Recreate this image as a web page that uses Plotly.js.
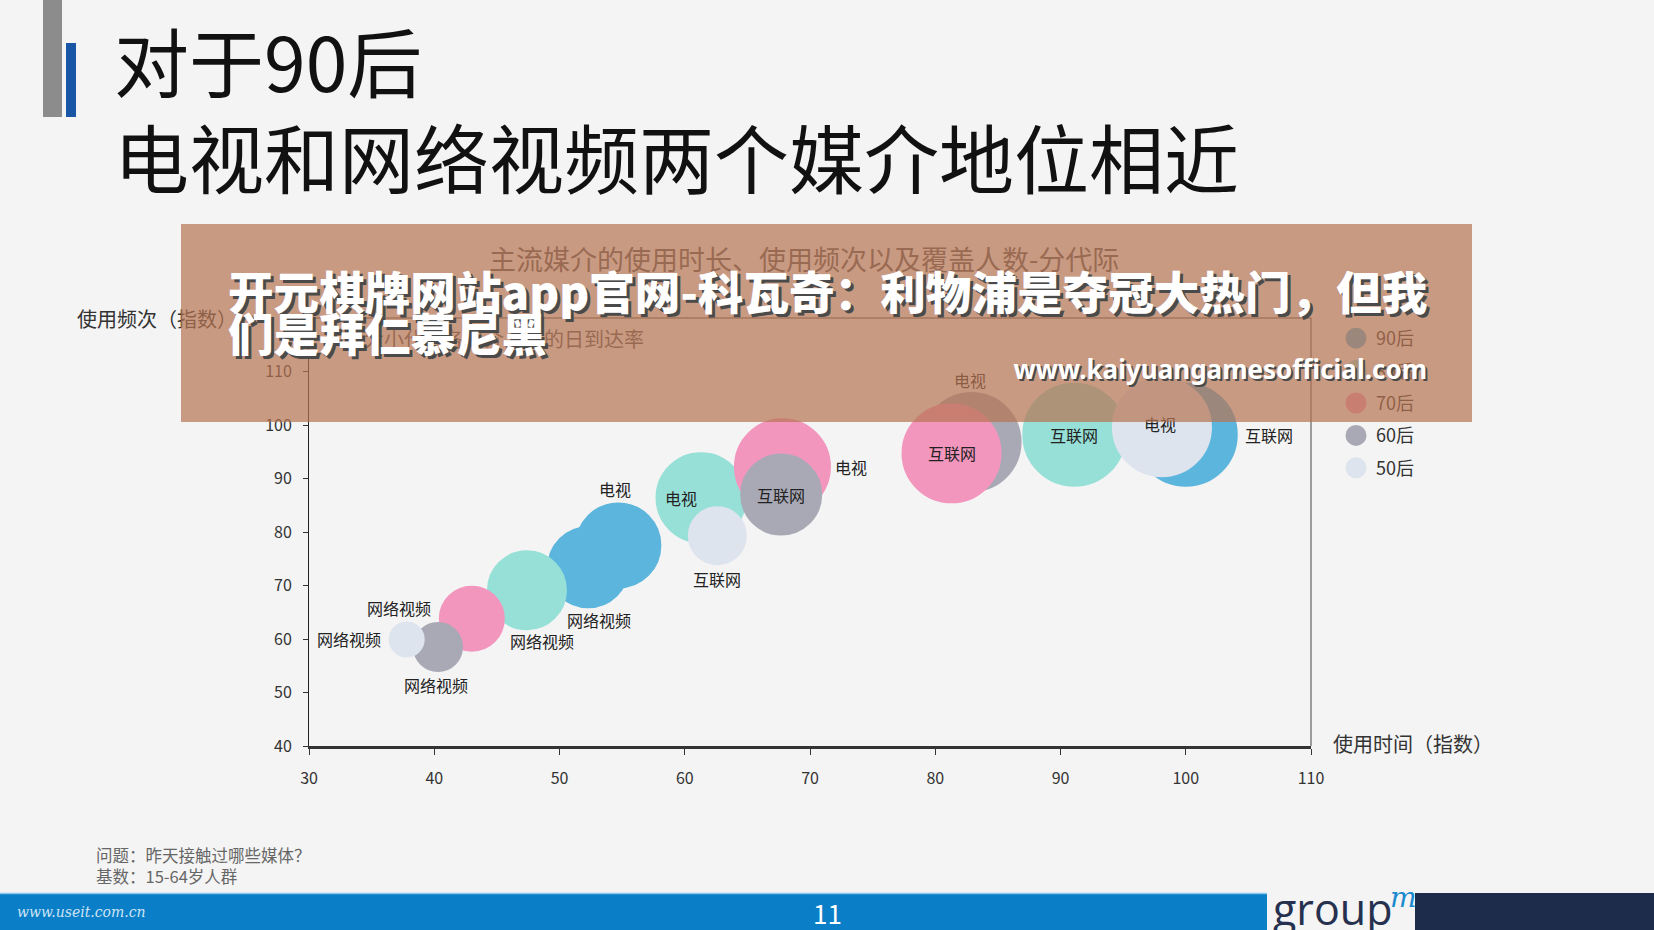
<!DOCTYPE html>
<html>
<head>
<meta charset="utf-8">
<script src="https://cdn.plot.ly/plotly-3.0.1.min.js"></script>
<style>
html,body{margin:0;padding:0;background:#f4f4f4;}
#wrap{position:relative;width:1654px;height:930px;overflow:hidden;background:#f4f4f4;}
#chart{position:absolute;left:0;top:0;width:1654px;height:930px;}
#overlay{position:absolute;left:181px;top:224px;width:1291px;height:198px;background:rgba(182,115,81,0.7);pointer-events:none;}
#wm{position:absolute;left:228px;top:269px;color:#fff;font-family:"Noto Sans CJK SC";font-weight:900;font-size:45.6px;line-height:42px;text-shadow:3px 3px 0 #4a4a4a;white-space:nowrap;pointer-events:none;}
#url{position:absolute;right:227px;top:352px;color:#fff;font-family:"Noto Sans","DejaVu Sans";font-weight:700;font-size:26px;line-height:34px;text-shadow:2px 2px 0 #4a4a4a;white-space:nowrap;pointer-events:none;}
</style>
</head>
<body>
<div id="wrap">
  <div id="chart"></div>
  <div id="overlay"></div>
  <div id="wm">开元棋牌网站app官网-科瓦奇：利物浦是夺冠大热门，但我<br>们是拜仁慕尼黑</div>
  <div id="url">www.kaiyuangamesofficial.com</div>
</div>
<script>
// ---------------- data ----------------
const generations = ['90后', '80后', '70后', '60后', '50后'];

const media_90 = ['网络视频', '电视', '互联网'];
const time_90  = [52.3, 54.7, 100.0];
const freq_90  = [73.4, 77.5, 98.2];
const reach_90 = [82, 86, 104];

const media_80 = ['网络视频', '电视', '互联网'];
const time_80  = [47.4, 61.3, 91.1];
const freq_80  = [69.1, 86.4, 98.2];
const reach_80 = [80, 91, 104];

const media_70 = ['网络视频', '电视', '互联网'];
const time_70  = [43.0, 67.8, 81.3];
const freq_70  = [63.8, 92.2, 94.7];
const reach_70 = [66, 97, 100];

const media_60 = ['网络视频', '互联网', '电视'];
const time_60  = [40.3, 67.7, 82.9];
const freq_60  = [58.5, 87.0, 96.8];
const reach_60 = [50, 82, 100];

const media_50 = ['网络视频', '互联网', '电视'];
const time_50  = [37.8, 62.6, 98.1];
const freq_50  = [59.9, 79.3, 99.6];
const reach_50 = [36, 59, 100];

const xTickVals = [30, 40, 50, 60, 70, 80, 90, 100, 110];
const yTickVals = [40, 50, 60, 70, 80, 90, 100, 110];

// ---------------- styles ----------------
const series = {
  '90后': {media: media_90, time: time_90, freq: freq_90, reach: reach_90},
  '80后': {media: media_80, time: time_80, freq: freq_80, reach: reach_80},
  '70后': {media: media_70, time: time_70, freq: freq_70, reach: reach_70},
  '60后': {media: media_60, time: time_60, freq: freq_60, reach: reach_60},
  '50后': {media: media_50, time: time_50, freq: freq_50, reach: reach_50}
};
const colors = {'90后': '#5cb5dd', '80后': '#97e0d7', '70后': '#f396be', '60后': '#a9a9b6', '50后': '#dde4ee'};
// points drawn behind the following generation (as in the original)
const backLayer = {'60后': ['电视']};
// label offsets in screen px [dx, dy(down)]
const labelOffset = {
  '50后|网络视频': [-58, -1],
  '60后|网络视频': [-2, 38],
  '70后|网络视频': [-73, -11],
  '80后|网络视频': [15, 51],
  '90后|网络视频': [11, 53],
  '90后|电视': [-3, -56],
  '80后|电视': [-20, 0],
  '50后|互联网': [0, 43],
  '70后|电视': [69, 0],
  '60后|互联网': [0, 0],
  '70后|互联网': [0, 0],
  '60后|电视': [-2, -62],
  '80后|互联网': [0, 0],
  '50后|电视': [-2, -3],
  '90后|互联网': [83, 0]
};
const LW = 5;
const FONT = '"Noto Sans CJK SC", "Noto Sans", sans-serif';

// canvas pixel -> paper coords
const L = 309, T = 318, PW = 1002, PH = 428;
const px = X => (X - L) / PW;
const py = Y => (T + PH - Y) / PH;

function makeTrace(g, idxs, showlegend) {
  const s = series[g];
  return {
    type: 'scatter', mode: 'markers', name: g, showlegend: showlegend, legendgroup: g,
    x: idxs.map(i => s.time[i]),
    y: idxs.map(i => s.freq[i]),
    text: idxs.map(i => s.media[i]),
    hovertemplate: '%{text}<br>使用时间 %{x}<br>使用频次 %{y}<extra>' + g + '</extra>',
    marker: {
      size: idxs.map(i => s.reach[i] - LW), sizemode: 'diameter', sizeref: 1,
      color: colors[g], opacity: 1, line: {width: LW, color: colors[g]}
    },
    cliponaxis: false
  };
}

const traces = [];
generations.forEach(g => {
  const s = series[g];
  const back = backLayer[g] || [];
  const backIdx = s.media.map((m, i) => i).filter(i => back.includes(s.media[i]));
  const frontIdx = s.media.map((m, i) => i).filter(i => !back.includes(s.media[i]));
  if (backIdx.length) {
    traces.splice(traces.length - 1, 0, makeTrace(g, backIdx, false));
  }
  traces.push(makeTrace(g, frontIdx, true));
});

const annotations = [];
generations.forEach(g => {
  const s = series[g];
  s.media.forEach((m, i) => {
    const off = labelOffset[g + '|' + m] || [0, 0];
    annotations.push({
      xref: 'x', yref: 'y', x: s.time[i], y: s.freq[i], text: m, showarrow: false,
      xshift: off[0], yshift: -off[1], xanchor: 'center', yanchor: 'middle',
      font: {family: FONT, size: 16, color: '#222'}
    });
  });
});

function note(text, X, Y, size, color, xanchor, extra) {
  return Object.assign({
    xref: 'paper', yref: 'paper', x: px(X), y: py(Y), text: text, showarrow: false,
    xanchor: xanchor || 'left', yanchor: 'middle',
    font: {family: FONT, size: size, color: color}
  }, extra || {});
}

annotations.push(
  note('对于90后', 112, 59, 75, '#111'),
  note('电视和网络视频两个媒介地位相近', 112, 156, 75, '#111'),
  note('主流媒介的使用时长、使用频次以及覆盖人数-分代际', 804, 258, 27, '#555', 'center'),
  note('气泡大小代表各媒介人群的日到达率', 322, 338, 20, '#555'),
  note('使用频次（指数）', 75, 318, 20, '#333'),
  note('使用时间（指数）', 1331, 743, 20, '#333'),
  note('问题：昨天接触过哪些媒体？', 94, 855, 16.5, '#666'),
  note('基数：15-64岁人群', 94, 876, 16.5, '#666'),
  note('11', 827, 912, 26, '#ffffff', 'center'),
  note('<i>www.useit.com.cn</i>', 15, 912, 14, '#cfe4f5', 'left', {font: {family: '"DejaVu Serif", serif', size: 14, color: '#cfe4f5'}}),
  note('group', 1271, 908, 43, '#26304f', 'left', {font: {family: '"Open Sans", sans-serif', size: 43, color: '#26304f'}}),
  note('<i>m</i>', 1388, 897, 28, '#1a8ad0', 'left', {font: {family: '"DejaVu Serif", serif', size: 28, color: '#1a8ad0'}})
);

function rect(X0, Y0, X1, Y1, color) {
  return {type: 'rect', xref: 'paper', yref: 'paper', x0: px(X0), x1: px(X1), y0: py(Y1), y1: py(Y0),
          fillcolor: color, line: {width: 0}, layer: 'below'};
}
const shapes = [
  {type: 'line', xref: 'paper', yref: 'paper', x0: 0, x1: 1, y0: 1, y1: 1, line: {color: '#444', width: 1}},
  {type: 'line', xref: 'paper', yref: 'paper', x0: 1, x1: 1, y0: 0, y1: 1, line: {color: '#444', width: 1}},
  rect(43, 0, 62, 117, '#8c8c8c'),
  rect(66, 43, 76, 117, '#1a56a6'),
  rect(0, 893, 1267, 930, '#0a7fc7'),
  {type: 'line', xref: 'paper', yref: 'paper', x0: px(0), x1: px(1267), y0: py(893.5), y1: py(893.5), line: {color: '#8cc8ee', width: 1.5}},
  rect(1415, 893, 1654, 930, '#1e2c4c')
];

const layout = {
  width: 1654, height: 930,
  margin: {l: L, r: 1654 - L - PW, t: T, b: 930 - T - PH, pad: 0},
  paper_bgcolor: '#f4f4f4', plot_bgcolor: '#f4f4f4',
  font: {family: FONT, color: '#333'},
  showlegend: true,
  legend: {
    x: px(1336), y: py(320), xanchor: 'left', yanchor: 'top',
    bgcolor: 'rgba(0,0,0,0)', font: {family: FONT, size: 18, color: '#333'},
    itemsizing: 'trace', traceorder: 'grouped', tracegroupgap: 6
  },
  xaxis: {
    range: [30, 110], tickvals: xTickVals, ticks: 'outside', ticklen: 6, tickwidth: 1, tickcolor: '#333',
    showline: true, linecolor: '#333', linewidth: 3, showgrid: false, zeroline: false,
    ticklabelstandoff: 10, tickfont: {family: FONT, size: 16, color: '#333'}, fixedrange: true
  },
  yaxis: {
    range: [40, 120], tickvals: yTickVals, ticks: 'outside', ticklen: 5, tickwidth: 1, tickcolor: '#333',
    showline: true, linecolor: '#222', linewidth: 1, showgrid: false, zeroline: false,
    ticklabelstandoff: 8, tickfont: {family: FONT, size: 16, color: '#333'}, fixedrange: true
  },
  annotations: annotations,
  shapes: shapes,
  hovermode: 'closest'
};

Plotly.newPlot('chart', traces, layout, {displayModeBar: false});
</script>
</body>
</html>
